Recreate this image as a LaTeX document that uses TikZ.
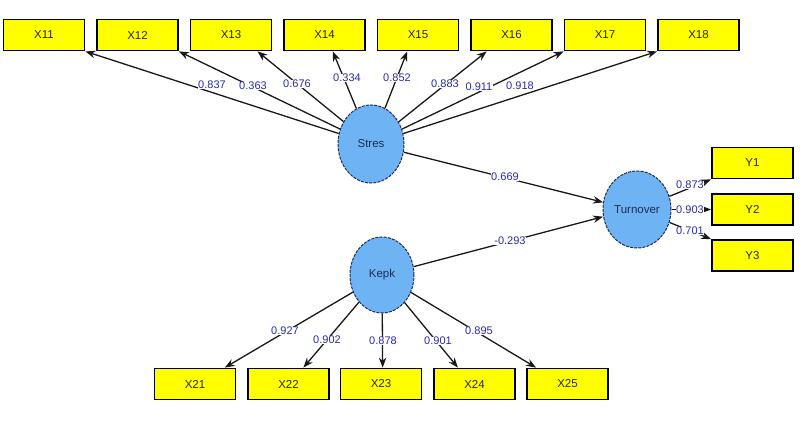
\documentclass[tikz,border=0pt]{standalone}
\usepackage{fontspec}
\setmainfont{Liberation Sans}
\usetikzlibrary{arrows.meta,calc,shapes.geometric}
\definecolor{boxyellow}{RGB}{255,255,0}
\definecolor{latblue}{RGB}{110,180,245}
\definecolor{labblue}{RGB}{40,40,180}
\definecolor{latedge}{RGB}{30,45,80}
\tikzset{
  mbox/.style={draw=black,line width=1.8pt,fill=boxyellow,minimum width=81pt,minimum height=31pt,inner sep=0pt,font=\fontsize{11.5}{13}\selectfont,text=black!85},
  lat/.style={ellipse,draw=latedge,line width=1pt,dash pattern=on 3pt off 1.2pt,fill=latblue,inner sep=0pt,font=\fontsize{11.5}{13}\selectfont,text=latedge},
  arr/.style={draw=black!90,line width=1.3pt,-{Stealth[length=10pt,width=7.5pt]}},
  lab/.style={fill=white,inner sep=0.6pt,text=labblue,font=\fontsize{11}{13}\selectfont}
}
\begin{document}
\begin{tikzpicture}[x=1pt,y=-1pt]
\useasboundingbox[fill=white] (0,0) rectangle (811,422);
% top indicator boxes
\node[mbox] (X11) at (44,35) {X11};
\node[mbox] (X12) at (137.5,35) {X12};
\node[mbox] (X13) at (231,35) {X13};
\node[mbox] (X14) at (324.5,35) {X14};
\node[mbox] (X15) at (418,35) {X15};
\node[mbox] (X16) at (511.5,35) {X16};
\node[mbox] (X17) at (605,35) {X17};
\node[mbox] (X18) at (698.5,35) {X18};
% right boxes
\node[mbox] (Y1) at (752.5,163) {Y1};
\node[mbox] (Y2) at (752.5,209.5) {Y2};
\node[mbox] (Y3) at (752.5,255.5) {Y3};
% bottom boxes
\node[mbox] (X21) at (195,384) {X21};
\node[mbox] (X22) at (288.5,384) {X22};
\node[mbox] (X23) at (381,384) {X23};
\node[mbox] (X24) at (474.5,384) {X24};
\node[mbox] (X25) at (567.5,384) {X25};
% latent variables
\node[lat,minimum width=66pt,minimum height=78pt] (S) at (371,144) {Stres};
\node[lat,minimum width=64pt,minimum height=76pt] (K) at (382,275) {Kepk};
\node[lat,minimum width=68pt,minimum height=77pt] (T) at (637,209.5) {Turnover};
% Stres outer loadings
\draw[arr] (S) -- (X11.south east);
\draw[arr] (S) -- (X12.south east);
\draw[arr] (S) -- ($(X13.south west)!0.82!(X13.south east)$);
\draw[arr] (S) -- ($(X14.south west)!0.6!(X14.south east)$);
\draw[arr] (S) -- ($(X15.south west)!0.37!(X15.south east)$);
\draw[arr] (S) -- ($(X16.south west)!0.2!(X16.south east)$);
\draw[arr] (S) -- (X17.south west);
\draw[arr] (S) -- (X18.south west);
% Kepk outer loadings
\draw[arr] (K) -- ($(X21.north west)!0.86!(X21.north east)$);
\draw[arr] (K) -- ($(X22.north west)!0.68!(X22.north east)$);
\draw[arr] (K) -- ($(X23.north west)!0.52!(X23.north east)$);
\draw[arr] (K) -- ($(X24.north west)!0.3!(X24.north east)$);
\draw[arr] (K) -- ($(X25.north west)!0.12!(X25.north east)$);
% structural paths
\draw[arr] (S) -- (T.168);
\draw[arr] (K) -- (T.192);
% Turnover outer loadings
\draw[arr] (T) -- (Y1.south west);
\draw[arr] (T) -- (Y2.west);
\draw[arr] (T) -- (Y3.north west);
% labels
\node[lab] (l11) at (212,85) {0.837};
\node[lab] (l12) at (253,86) {0.363};
\node[lab] (l13) at (297,84) {0.676};
\node[lab] (l14) at (347,78) {0.334};
\node[lab] (l15) at (397,78) {0.852};
\node[lab] (l16) at (445,84) {0.883};
\node[lab] (l17) at (479,87) {0.911};
\node[lab] (l18) at (520,86) {0.918};
\node[lab] (lst) at (505,177) {0.669};
\node[lab] (lkt) at (510,241) {-0.293};
\node[lab] (ly1) at (690,185) {0.873};
\node[lab] (ly2) at (690,210) {0.903};
\node[lab] (ly3) at (690,231) {0.701};
\node[lab] (l21) at (285,331) {0.927};
\node[lab] (l22) at (327,340) {0.902};
\node[lab] (l23) at (383,341) {0.878};
\node[lab] (l24) at (438,341) {0.901};
\node[lab] (l25) at (479,331) {0.895};
\end{tikzpicture}
\end{document}
